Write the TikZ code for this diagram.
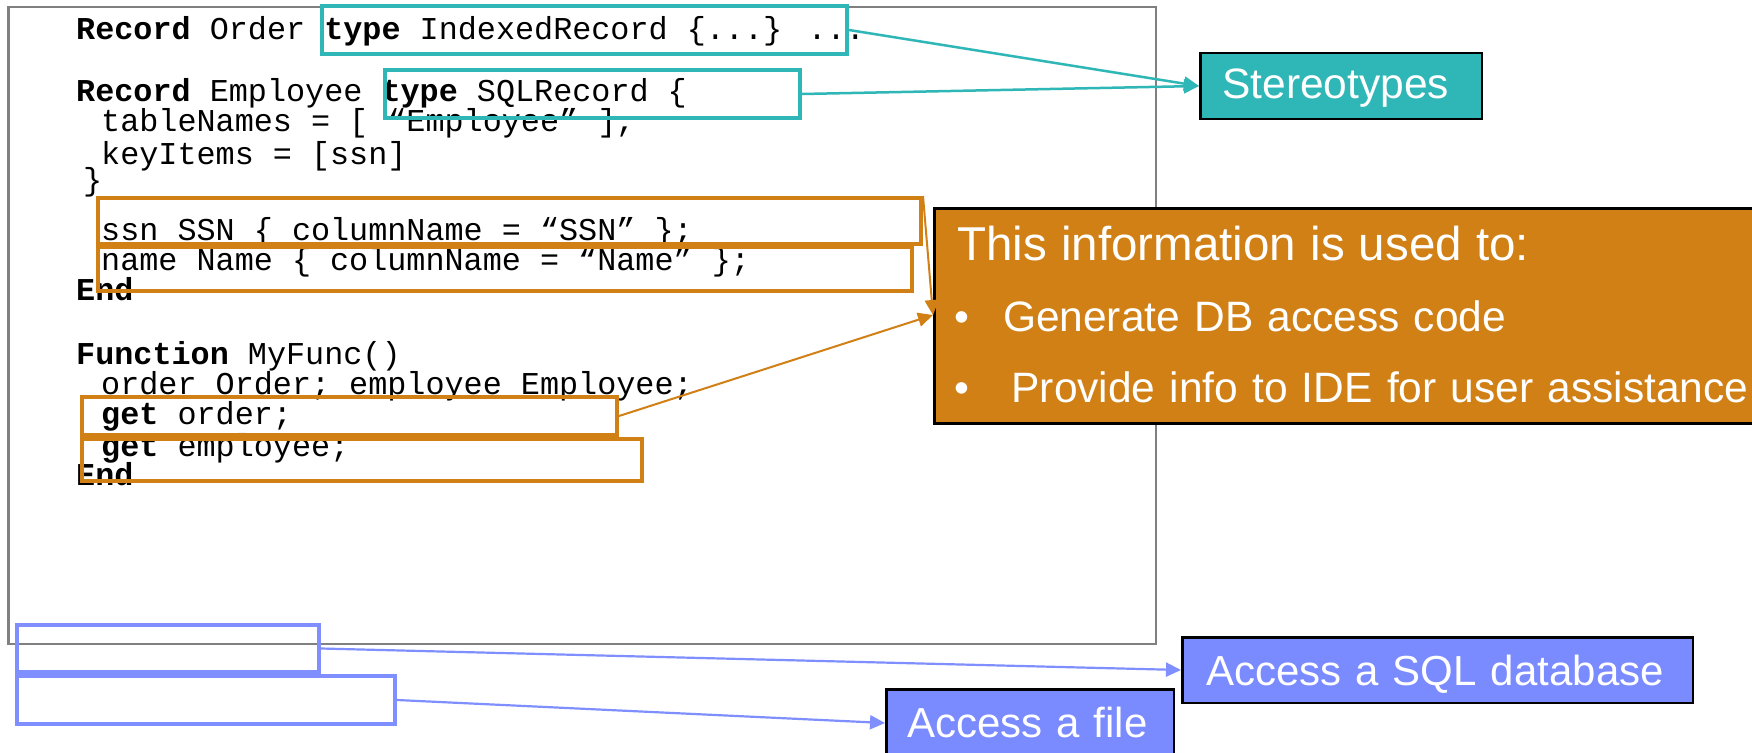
\documentclass[tikz,border=0pt]{standalone}
\usepackage{fontspec}
\setmainfont{Liberation Sans}
\newfontfamily\codefont{Liberation Mono}
\usetikzlibrary{arrows.meta}
\definecolor{tealc}{HTML}{2FB6B6}
\definecolor{orangec}{HTML}{D18015}
\definecolor{bluec}{HTML}{7A8AFF}
\definecolor{blueln}{HTML}{7F8FFF}
\definecolor{frameg}{HTML}{808080}
\begin{document}
\begin{tikzpicture}[x=1pt,y=-1pt,
  code/.style={anchor=base west, inner sep=0pt, font=\codefont\fontsize{31.8}{36}\selectfont},
  hlbox/.style={draw=#1, line width=4pt, anchor=north west, inner sep=0pt},
  lblbox/.style={draw=black, line width=2.5pt, fill=#1, text=white, anchor=north west,
     inner ysep=0pt, align=left, font=\fontsize{42}{71}\selectfont},
  conn/.style={draw=#1, line width=2.2pt, -{Triangle[length=15pt,width=14pt]}}
]
\useasboundingbox (0,0) rectangle (1752,752);
\clip (0,0) rectangle (1752,752);
\fill[white] (0,0) rectangle (1752,752);

% code frame
\node[draw=frameg, line width=2.5pt, fill=white, anchor=north west, inner sep=0pt,
      minimum width=1147.5pt, minimum height=636.5pt] (codebox) at (7,6) {};

% code lines
\node[code] (c1) at (76,40) {\textbf{Record} Order \textbf{type} IndexedRecord \{...\} ...};
\node[code] (c2) at (76,101.7) {\textbf{Record} Employee \textbf{type} SQLRecord \{};
\node[code] (c3) at (101,131.7) {tableNames = [ “Employee” ],};
\node[code] (c4) at (101,164) {keyItems = [ssn]};
\node[code] (c5) at (83,190) {\}};
\node[code] (c6) at (101,240) {ssn SSN \{ columnName = “SSN” \};};
\node[code] (c7) at (101,270) {name Name \{ columnName = “Name” \};};
\node[code] (c8) at (76,300) {\textbf{End}};
\node[code] (c9) at (76,364) {\textbf{Function} MyFunc()};
\node[code] (c10) at (101,394) {order Order; employee Employee;};
\node[code] (c11) at (101,424) {\textbf{get} order;};
\node[code] (c12) at (101,456) {\textbf{get} employee;};
\node[code] (c13) at (76,485) {\textbf{End}};

% highlight boxes
\node[hlbox=tealc, minimum width=525pt, minimum height=48pt] (hb1) at (320,4) {};
\node[hlbox=tealc, minimum width=415pt, minimum height=48pt] (hb2) at (383,68) {};
\node[hlbox=orangec, minimum width=823pt, minimum height=46pt] (ob1) at (96,196) {};
\node[hlbox=orangec, minimum width=814pt, minimum height=44pt] (ob2) at (96,245) {};
\node[hlbox=orangec, minimum width=535pt, minimum height=38pt] (ob3) at (80,395) {};
\node[hlbox=orangec, minimum width=560pt, minimum height=42pt] (ob4) at (80,437) {};
\node[hlbox=blueln, minimum width=302pt, minimum height=47pt] (bb1) at (15,623) {};
\node[hlbox=blueln, minimum width=378pt, minimum height=48pt] (bb2) at (15,674) {};

% label boxes
\node[lblbox=tealc, inner xsep=22pt, text width=237.5pt,
      text height=44.75pt, text depth=20.75pt, font=\fontsize{42.5}{71}\selectfont] (st) at (1199,52) {Stereotypes};
\node[lblbox=orangec, line width=3pt, inner xsep=23pt, text width=800pt,
      text height=52pt, text depth=163pt, font=\fontsize{42.5}{71}\selectfont] (info) at (933,207)
  {{\fontsize{47.5}{71}\selectfont This information is used to:}\\
   \hspace*{-3pt}\makebox[48.5pt][l]{•}Generate DB access code\\
   \hspace*{-3pt}\makebox[57pt][l]{•}Provide info to IDE for user assistance};
\node[lblbox=bluec, inner xsep=24pt, text width=462.5pt,
      text height=47.75pt, text depth=17.75pt] (sql) at (1181,636) {Access a SQL database};
\node[lblbox=bluec, inner xsep=21pt, text width=245.5pt,
      text height=47.75pt, text depth=31.75pt] (file) at (885,688) {Access a file};

\coordinate (infoin) at (933,315);
\coordinate (filein) at (885,723);

% connectors
\draw[conn=tealc, line width=2.5pt] (hb1.east) -- (st.west);
\draw[conn=tealc, line width=2.5pt] (hb2.east) -- (st.west);
\draw[conn=orangec, line width=2pt] (ob1.north east) -- (infoin);
\draw[conn=orangec, line width=2pt] (ob3.east) -- (infoin);
\draw[conn=blueln] (bb1.east) -- (sql.west);
\draw[conn=blueln] (bb2.east) -- (filein);
\end{tikzpicture}
\end{document}
